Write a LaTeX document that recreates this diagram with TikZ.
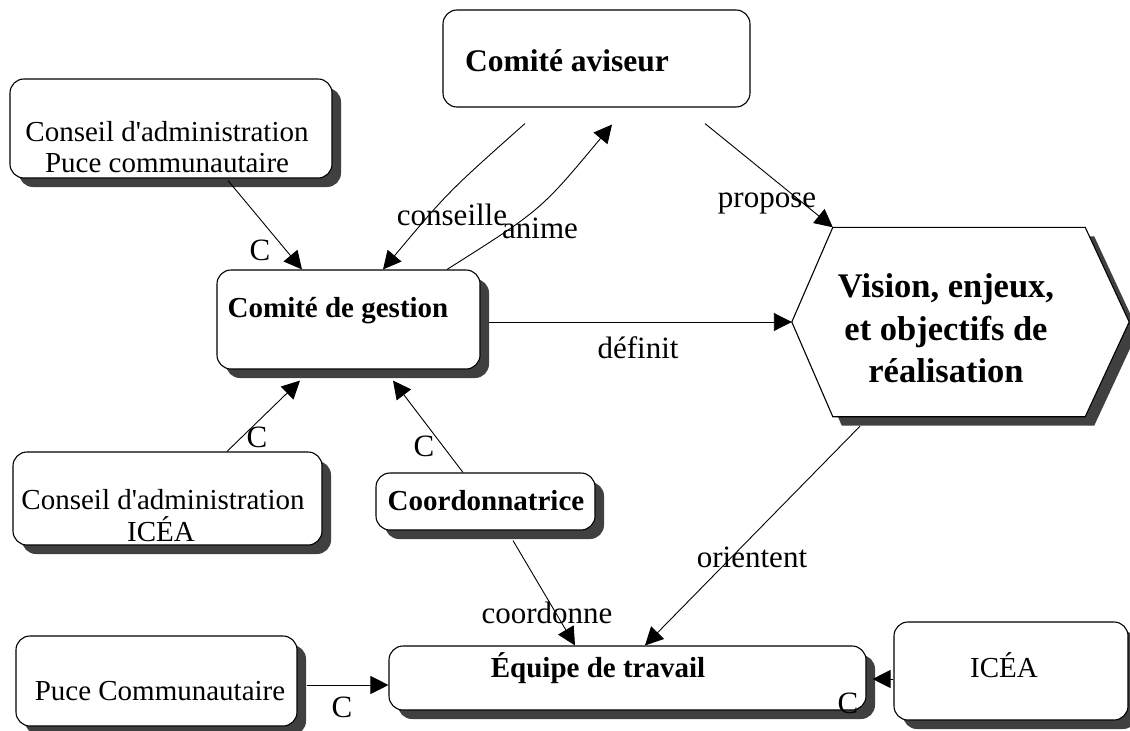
\documentclass[tikz,border=0pt]{standalone}
\usepackage{fontspec}
\setmainfont{Liberation Serif}
\usetikzlibrary{arrows.meta,shadows,calc}
\definecolor{shd}{HTML}{404040}
\begin{document}
\begin{tikzpicture}[x=1pt,y=-1pt,
 box/.style={draw, line width=1.1pt, rounded corners=14pt, fill=white, inner sep=0pt,
   drop shadow={shadow xshift=9pt, shadow yshift=-9pt, fill=shd, opacity=1}},
 plainbox/.style={draw, line width=1.1pt, rounded corners=14pt, fill=white, inner sep=0pt},
 txt/.style={font=\fontsize{29}{32}\selectfont, inner sep=0pt, anchor=base},
 btxt/.style={font=\fontsize{29}{32}\selectfont\bfseries, inner sep=0pt, anchor=base},
 vtxt/.style={font=\fontsize{34.5}{42}\selectfont\bfseries, inner sep=0pt, anchor=base},
 lbl/.style={font=\fontsize{31}{34}\selectfont, inner sep=0pt, anchor=base},
 arr/.style={line width=0.9pt, -{Triangle[length=18pt,width=18pt]}},
]
\useasboundingbox (0,0) rectangle (1130,731);

% boxes
\node[plainbox, minimum width=307pt, minimum height=97pt] (ca) at (596.5,58.5) {};
\node[box, minimum width=322pt, minimum height=99pt] (pcA) at (171,128.5) {};
\node[box, minimum width=263pt, minimum height=99pt] (cg) at (348.5,319.5) {};
\node[box, minimum width=309pt, minimum height=93pt] (ciA) at (167.5,498.5) {};
\node[box, minimum width=219pt, minimum height=57pt] (co) at (485.5,501.5) {};
\node[box, minimum width=281pt, minimum height=90pt] (pc) at (156.5,681) {};
\node[box, minimum width=477pt, minimum height=64pt] (eq) at (627.5,678) {};
\node[box, minimum width=234pt, minimum height=98pt] (ic) at (1011,671) {};

% hexagon
\node[minimum width=337pt, minimum height=189pt, inner sep=0pt] (vis) at (960.5,322) {};
\coordinate (vNW) at ($(vis.north west)+(41,0)$);
\coordinate (vNE) at ($(vis.north east)+(-44,0)$);
\coordinate (vSE) at ($(vis.south east)+(-44,0)$);
\coordinate (vSW) at ($(vis.south west)+(41,0)$);
\fill[shd] ($(vis.west)+(9,9)$) -- ($(vNW)+(9,9)$) -- ($(vNE)+(9,9)$) -- ($(vis.east)+(9,9)$) -- ($(vSE)+(9,9)$) -- ($(vSW)+(9,9)$) -- cycle;
\draw[line width=1.1pt, fill=white] (vis.west) -- (vNW) -- (vNE) -- (vis.east) -- (vSE) -- (vSW) -- cycle;

% texts
\node[font=\fontsize{31.5}{34}\selectfont\bfseries, inner sep=0pt, anchor=base] (cat) at (567,71) {Comité aviseur};
\node[txt] (pcAt1) at (167,141) {Conseil d\textquotesingle administration};
\node[txt] (pcAt2) at (167,172) {Puce communautaire};
\node[btxt] (cgt) at (338,317) {Comité de gestion};
\node[txt] (ciAt1) at (163,509) {Conseil d\textquotesingle administration};
\node[txt] (ciAt2) at (161,541) {ICÉA};
\node[btxt] (cot) at (486,510) {Coordonnatrice};
\node[txt] (pct) at (160,700) {Puce Communautaire};
\node[btxt] (eqt) at (598,677) {Équipe de travail};
\node[txt] (ict) at (1004,677) {ICÉA};
\node[vtxt] (vt1) at (946,297) {Vision, enjeux,};
\node[vtxt] (vt2) at (946,340) {et objectifs de};
\node[vtxt] (vt3) at (946,382) {réalisation};

% connectors
\draw[arr] ($(pcA.south)+(57,2)$) -- ($(cg.north)+(-46.5,0)$);
\draw[arr] ($(ca.south)+(-71.5,16)$) .. controls (448,192) .. ($(cg.north)+(34.5,0)$);
\draw[arr] ($(cg.north)+(98.5,0)$) .. controls (541,210) .. ($(ca.south)+(15.5,17)$);
\draw[arr] ($(ca.south)+(108.5,16)$) -- (vNW);
\draw[arr] ($(cg.east |- vis.west)+(8,0)$) -- (vis.west);
\draw[arr] ($(ciA.north)+(59.5,0)$) -- ($(cg.south)+(-48.5,11)$);
\draw[arr] ($(co.north)+(-22.5,0)$) -- ($(cg.south)+(44.5,11)$);
\draw[arr] ($(co.south)+(27.5,10)$) -- ($(eq.north)+(-52.5,0)$);
\draw[arr] ($(vis.south)+(-100.5,9.5)$) -- ($(eq.north)+(17.5,0)$);
\draw[arr] ($(pc.east)+(9,4)$) -- ($(eq.west)+(0,7)$);
\draw[arr] ($(ic.west)+(0,8)$) -- ($(eq.east)+(6,1)$);

% labels
\node[lbl] (l1) at (260,260) {C};
\node[lbl] (l2) at (452,225) {conseille};
\node[lbl] (l3) at (540,238) {anime};
\node[lbl] (l4) at (767,207) {propose};
\node[lbl] (l5) at (638,358) {définit};
\node[lbl] (l6) at (257,447) {C};
\node[lbl] (l7) at (424,456) {C};
\node[lbl] (l8) at (547,623) {coordonne};
\node[lbl] (l9) at (752,567) {orientent};
\node[lbl] (l10) at (342,717) {C};
\node[lbl] (l11) at (848,713) {C};
\end{tikzpicture}
\end{document}
